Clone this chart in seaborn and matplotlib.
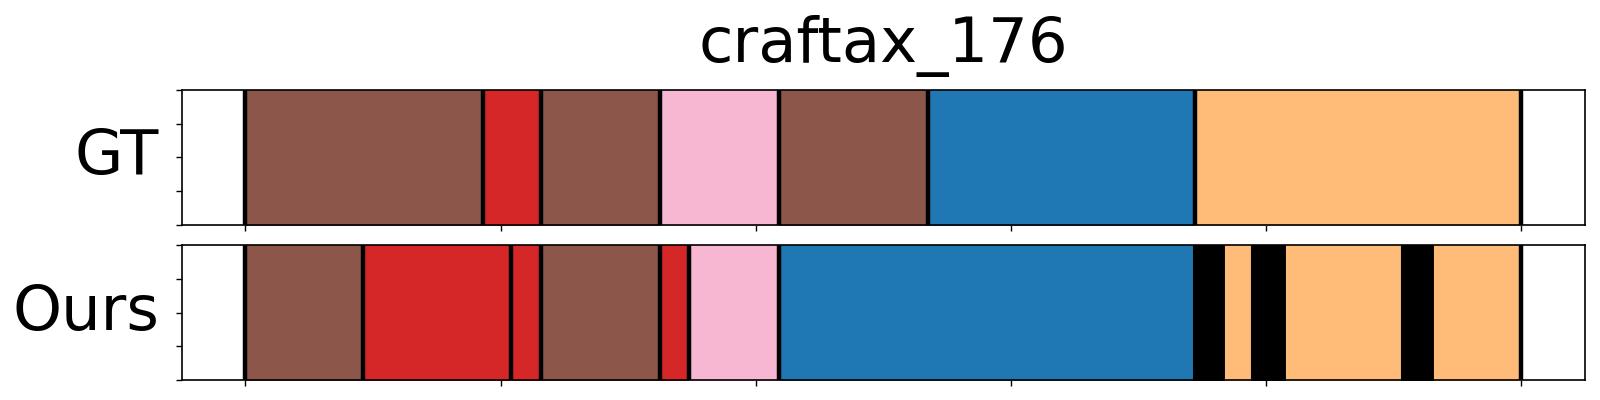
import numpy as np
import matplotlib
matplotlib.use('Agg')
import matplotlib.pyplot as plt
import seaborn as sns

# Segment boundaries (frame index) and class id of each segment
n_frames = 1000
gt_bounds = [0, 186, 232, 325, 418, 535, 744, 1000]
gt_labels = [10, 6, 10, 13, 10, 0, 3]
ours_bounds = [0, 92, 208, 232, 325, 348, 418, 743, 768, 788, 816, 906, 932, 1000]
ours_labels = [10, 6, 6, 10, 6, 13, 0, -1, 3, -1, 3, -1, 3]
# boundaries that get a black separator line
gt_lines = [0, 186, 232, 325, 418, 535, 744, 1000]
ours_lines = [0, 92, 208, 232, 325, 348, 418, 1000]

rows = ['GT', 'Ours']
title = 'craftax_176'

sns.set_style('ticks')
plt.rcParams['font.family'] = ['DejaVu Sans']
plt.rcParams['text.color'] = 'black'
plt.rcParams['axes.labelcolor'] = 'black'
palette = sns.color_palette('tab20', 20)


def seg_color(c):
    # -1 is the background / no-action class, drawn black
    if c < 0:
        return 'black'
    return palette[c]


def draw_segments(ax, bounds, labels, lines, name):
    for start, end, c in zip(bounds[:-1], bounds[1:], labels):
        col = seg_color(c)
        ax.broken_barh([(start, end - start)], (0, 1), facecolors=col,
                       edgecolors=col, linewidth=0.8)
    for b in lines:
        ax.axvline(b, color='black', linewidth=3.2)
    ax.set_xlim(-0.05 * n_frames, 1.05 * n_frames)
    ax.set_ylim(0, 1)
    ax.set_xticks(np.linspace(0, n_frames, 6))
    ax.set_yticks(np.linspace(0, 1, 5))
    ax.set_xticklabels([])
    ax.set_yticklabels([])
    for sp in ax.spines.values():
        sp.set_visible(True)
        sp.set_color('black')
        sp.set_linewidth(1.2)
    ax.tick_params(colors='black', length=4, width=1)
    ax.set_ylabel(name, rotation=0, ha='right', va='center', fontsize=45,
                  color='black')
    ax.yaxis.set_label_coords(-0.016, 0.5)


fig, axes = plt.subplots(2, 1, figsize=(16, 4), dpi=100)
fig.subplots_adjust(left=0.1135, right=0.9906, top=0.775, bottom=0.05,
                    hspace=0.155)
draw_segments(axes[0], gt_bounds, gt_labels, gt_lines, rows[0])
draw_segments(axes[1], ours_bounds, ours_labels, ours_lines, rows[1])
axes[0].set_title(title, fontsize=45, pad=20, color='black')

fig.savefig('out.png', dpi=100, facecolor='white')
